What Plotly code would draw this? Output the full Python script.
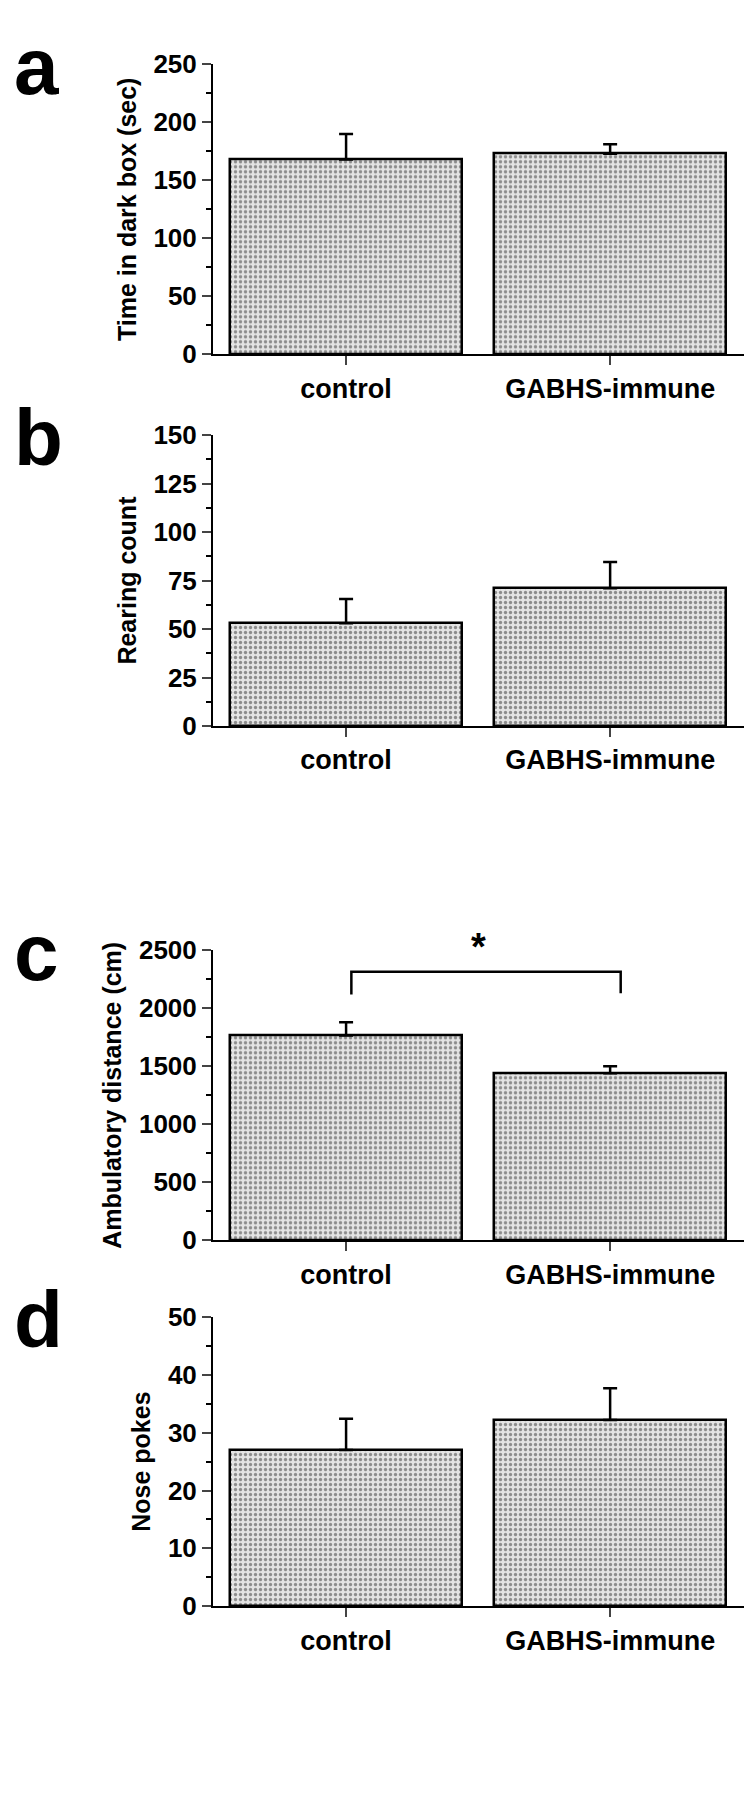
import plotly.graph_objects as go

categories = ["control", "GABHS-immune"]
a_vals = [168, 173]; a_err = [22, 8]
b_vals = [53, 71]; b_err = [12.5, 13.5]
c_vals = [1765, 1440]; c_err = [115, 60]
d_vals = [27, 32.2]; d_err = [5.4, 5.5]

panels = [
    ("a", a_vals, a_err, "Time in dark box (sec)", 250, 50, 25, (42, 337)),
    ("b", b_vals, b_err, "Rearing count", 150, 25, 12.5, (419, 715)),
    ("c", c_vals, c_err, "Ambulatory distance (cm)", 2500, 500, 250, (943, 1238)),
    ("d", d_vals, d_err, "Nose pokes", 50, 10, 5, (1316, 1610)),
]
H, W = 1800, 752
font = "Liberation Sans, Arial, sans-serif"
fig = go.Figure()
for i, (lab, vals, err, title, ymax, dt, mdt, (top, bot)) in enumerate(panels):
    n = "" if i == 0 else str(i + 1)
    fig.add_trace(go.Bar(
        x=[0, 1], y=vals, width=0.88, xaxis="x" + n, yaxis="y" + n,
        marker=dict(color="#dcdcdc", line=dict(color="black", width=2.5),
                    pattern=dict(shape=".", fgcolor="#333333", bgcolor="#e4e4e4", size=5, solidity=0.35)),
        error_y=dict(type="data", array=err, arrayminus=[0, 0], color="black", thickness=2.5, width=7),
        showlegend=False))
    dom = [1 - bot / H, 1 - top / H]
    fig.update_layout(**{
        "xaxis" + n: dict(domain=[205 / W, 736 / W], range=[-0.504, 1.507], anchor="y" + n,
                          tickvals=[0, 1], ticktext=categories, ticks="outside", ticklen=9,
                          tickwidth=2, showline=True, linecolor="black", linewidth=2,
                          showgrid=False, zeroline=False,
                          tickfont=dict(family=font, size=27, color="black", weight="bold")),
        "yaxis" + n: dict(domain=dom, range=[0, ymax], anchor="x" + n, dtick=dt,
                          ticks="outside", ticklen=9, tickwidth=2, showline=True,
                          linecolor="black", linewidth=2, showgrid=False, zeroline=False,
                          minor=dict(dtick=mdt, ticks="outside", ticklen=5, tickwidth=1.5, tickcolor="black"),
                          tickfont=dict(family=font, size=26, color="black", weight="bold"),
                          title=dict(text=title, standoff=10,
                                     font=dict(family=font, size=25, color="black", weight="bold"))),
    })
    fig.add_annotation(text=lab, xref="paper", yref="paper", x=0.005, y=1 - (top - 45) / H,
                       xanchor="left", yanchor="top", showarrow=False,
                       font=dict(family=font, size=80, color="black", weight="bold"))

# significance bracket in panel c
fig.add_trace(go.Scatter(x=[0.02, 0.02, 1.04, 1.04], y=[2119, 2314, 2314, 2130], mode="lines",
                         line=dict(color="black", width=2.5), xaxis="x3", yaxis="y3", showlegend=False))
fig.add_annotation(text="*", x=0.5, y=2330, xref="x3", yref="y3", showarrow=False,
                   yanchor="bottom", font=dict(family=font, size=38, color="black", weight="bold"))

fig.update_layout(width=W, height=H, margin=dict(l=0, r=0, t=0, b=0),
                  plot_bgcolor="white", paper_bgcolor="white", bargap=0)
fig.write_html("out.html")
